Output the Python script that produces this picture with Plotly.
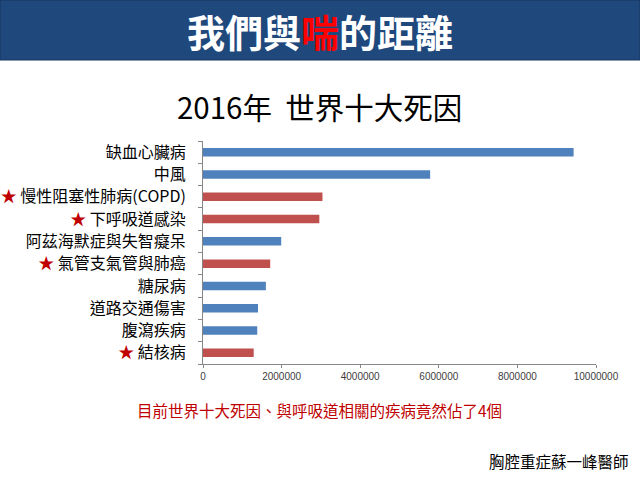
import plotly.graph_objects as go

categories = ["缺血心臟病", "中風", "慢性阻塞性肺病(COPD)", "下呼吸道感染",
              "阿茲海默症與失智癡呆", "氣管支氣管與肺癌", "糖尿病", "道路交通傷害",
              "腹瀉疾病", "結核病"]
deaths = [9430000, 5780000, 3040000, 2960000, 1990000, 1710000, 1600000, 1400000, 1380000, 1290000]
respiratory = [False, False, True, True, False, True, False, False, False, True]
x_ticks = [0, 2000000, 4000000, 6000000, 8000000, 10000000]

BLUE = "#4F81BD"
RED = "#C0504D"
STAR = "#C00000"
CJK = "Noto Sans CJK TC, Noto Sans CJK SC, sans-serif"

colors = [RED if r else BLUE for r in respiratory]
ticktext = [(f"<span style='color:{STAR}'>★</span> " + c) if r else c
            for c, r in zip(categories, respiratory)]

W, H = 640, 480
L, R, T, B = 203, 596, 141, 364


def px(x):
    return (x - L) / (R - L)


def py(y):
    return (B - y) / (B - T)


fig = go.Figure(go.Bar(
    x=deaths, y=categories, orientation="h",
    marker=dict(color=colors, line=dict(width=0)),
    width=0.38,
))

fig.update_layout(
    width=W, height=H,
    margin=dict(l=L, r=W - R, t=T, b=H - B, pad=0),
    paper_bgcolor="white", plot_bgcolor="white",
    showlegend=False,
    font=dict(family=CJK, color="#000000"),
    xaxis=dict(range=[0, 10000000], tickvals=x_ticks, tickformat="d",
               showgrid=False, zeroline=False, showline=True, automargin=False,
               linecolor="#868686", linewidth=1, ticks="outside",
               ticklen=3, tickcolor="#868686",
               tickfont=dict(size=10, color="#404040", family="Liberation Sans, Arial, sans-serif")),
    yaxis=dict(autorange="reversed", tickmode="array", tickvals=categories,
               ticktext=ticktext, tickson="boundaries", ticks="outside",
               ticklen=4, tickcolor="#868686", showline=True, automargin=False,
               linecolor="#868686", linewidth=1, showgrid=False,
               ticklabelstandoff=13,
               tickfont=dict(size=16, color="#000000", family=CJK)),
    shapes=[dict(type="rect", xref="paper", yref="paper",
                 x0=px(0), x1=px(W), y0=py(60), y1=py(0),
                 fillcolor="#1F487C", line=dict(color="#17365D", width=1), layer="above")],
    annotations=[
        dict(xref="paper", yref="paper", x=px(320), y=py(31), showarrow=False,
             xanchor="center", yanchor="middle",
             text="<b>我們與<span style='color:#FF0000'>喘</span>的距離</b>",
             font=dict(size=38, color="white", family=CJK)),
        dict(xref="paper", yref="paper", x=px(319), y=py(106), showarrow=False,
             xanchor="center", yanchor="middle",
             text="2016年  世界十大死因",
             font=dict(size=29.5, color="#000000", family=CJK)),
        dict(xref="paper", yref="paper", x=px(319), y=py(410), showarrow=False,
             xanchor="center", yanchor="middle",
             text="目前世界十大死因、與呼吸道相關的疾病竟然佔了4個",
             font=dict(size=15.5, color="#C00000", family=CJK)),
        dict(xref="paper", yref="paper", x=px(631), y=py(461), showarrow=False,
             xanchor="right", yanchor="middle",
             text="胸腔重症蘇一峰醫師",
             font=dict(size=15.5, color="#000000", family=CJK)),
    ],
)

fig.write_html("out.html")
